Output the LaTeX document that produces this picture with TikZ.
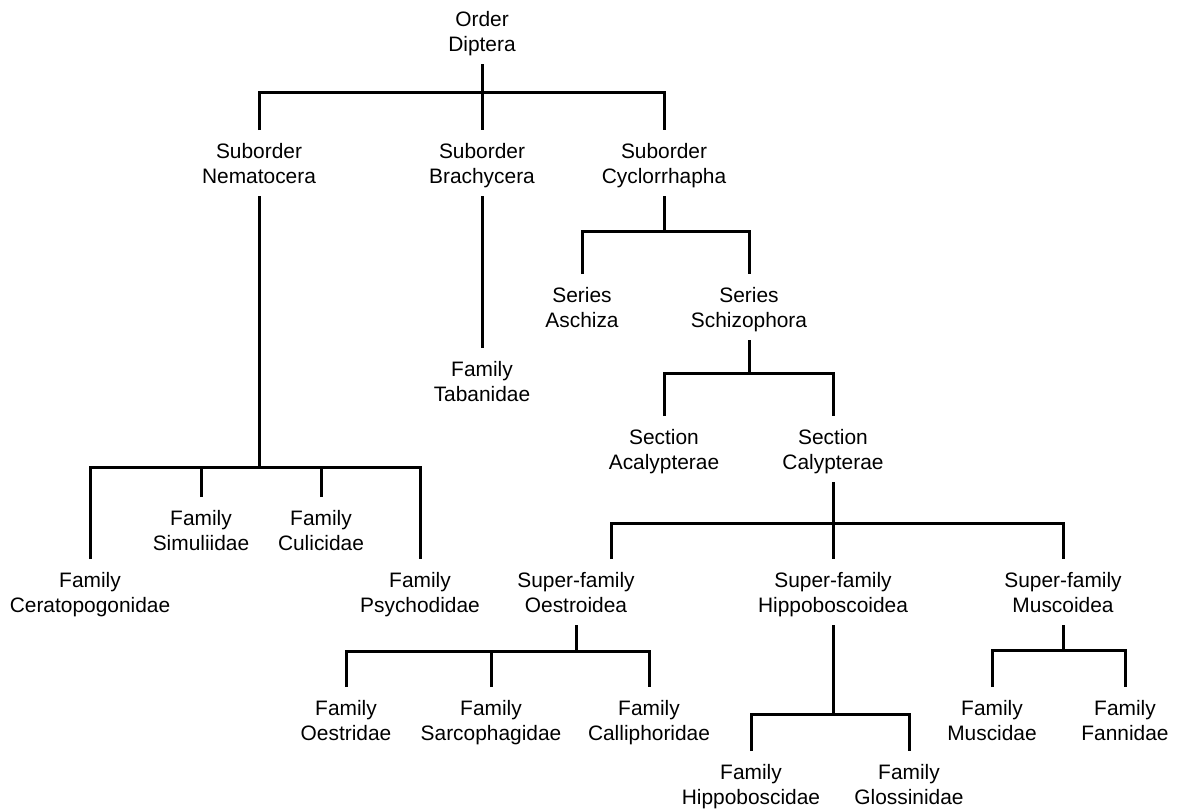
\documentclass[tikz,border=0pt]{standalone}
\usepackage{fontspec}
\setmainfont{Liberation Sans}
\newcommand{\twoline}[2]{\rule{0pt}{10pt}#1\\#2\rule[-2.5pt]{0pt}{2.5pt}}
\begin{document}
\begin{tikzpicture}[x=0.5pt,y=-0.5pt,
  tx/.style={inner sep=0pt, outer sep=4pt, align=center, anchor=north,
    font=\fontsize{10.45pt}{12.5pt}\selectfont},
  ln/.style={line width=1.5pt, black}]
\useasboundingbox (0,0) rectangle (1178,809);
% nodes: position = (x, first baseline - 28)
\node[tx] (root) at (482,-2)   {\twoline{Order}{Diptera}};
\node[tx] (nem)  at (259,130)  {\twoline{Suborder}{Nematocera}};
\node[tx] (bra)  at (482,130)  {\twoline{Suborder}{Brachycera}};
\node[tx] (cyc)  at (664,130)  {\twoline{Suborder}{Cyclorrhapha}};
\node[tx] (tab)  at (482,348)  {\twoline{Family}{Tabanidae}};
\node[tx] (asc)  at (582,274)  {\twoline{Series}{Aschiza}};
\node[tx] (sch)  at (749,274)  {\twoline{Series}{Schizophora}};
\node[tx] (aca)  at (664,416)  {\twoline{Section}{Acalypterae}};
\node[tx] (cal)  at (833,416)  {\twoline{Section}{Calypterae}};
\node[tx] (cer)  at (90,559)   {\twoline{Family}{Ceratopogonidae}};
\node[tx] (sim)  at (201,497)  {\twoline{Family}{Simuliidae}};
\node[tx] (cul)  at (321,497)  {\twoline{Family}{Culicidae}};
\node[tx] (psy)  at (420,559)  {\twoline{Family}{Psychodidae}};
\node[tx] (oes)  at (576,559)  {\twoline{Super-family}{Oestroidea}};
\node[tx] (hip)  at (833,559)  {\twoline{Super-family}{Hippoboscoidea}};
\node[tx] (mus)  at (1063,559) {\twoline{Super-family}{Muscoidea}};
\node[tx] (oesd) at (346,687)  {\twoline{Family}{Oestridae}};
\node[tx] (sar)  at (491,687)  {\twoline{Family}{Sarcophagidae}};
\node[tx] (cll)  at (649,687)  {\twoline{Family}{Calliphoridae}};
\node[tx] (hbd)  at (751,751)  {\twoline{Family}{Hippoboscidae}};
\node[tx] (glo)  at (909,751)  {\twoline{Family}{Glossinidae}};
\node[tx] (mud)  at (992,687)  {\twoline{Family}{Muscidae}};
\node[tx] (fan)  at (1125,687) {\twoline{Family}{Fannidae}};
% bar levels
\coordinate (b0) at (0,92);
\coordinate (b1) at (0,467);
\coordinate (b2) at (0,231);
\coordinate (b3) at (0,373);
\coordinate (b4) at (0,523);
\coordinate (b5) at (0,651);
\coordinate (b6) at (0,714);
\coordinate (b7) at (0,650);
\coordinate (oesj) at ([xshift=17.5pt]oes.north);
% connectors
\draw[ln] (root.south) -- (bra.north);
\draw[ln] (nem.north) |- (cyc.north |- b0) -- (cyc.north);
\draw[ln] (nem.south) -- (nem.south |- b1);
\draw[ln] (cer.north) |- (psy.north |- b1) -- (psy.north);
\draw[ln] (sim.north) -- (sim.north |- b1);
\draw[ln] (cul.north) -- (cul.north |- b1);
\draw[ln] (bra.south) -- (tab.north);
\draw[ln] (cyc.south) -- (cyc.south |- b2);
\draw[ln] (asc.north) |- (sch.north |- b2) -- (sch.north);
\draw[ln] (sch.south) -- (sch.south |- b3);
\draw[ln] (aca.north) |- (cal.north |- b3) -- (cal.north);
\draw[ln] (cal.south) -- (hip.north);
\draw[ln] (oesj) |- (mus.north |- b4) -- (mus.north);
\draw[ln] (oes.south) -- (oes.south |- b5);
\draw[ln] (oesd.north) |- (cll.north |- b5) -- (cll.north);
\draw[ln] (sar.north) -- (sar.north |- b5);
\draw[ln] (hip.south) -- (hip.south |- b6);
\draw[ln] (hbd.north) |- (glo.north |- b6) -- (glo.north);
\draw[ln] (mus.south) -- (mus.south |- b7);
\draw[ln] (mud.north) |- (fan.north |- b7) -- (fan.north);
\end{tikzpicture}
\end{document}
